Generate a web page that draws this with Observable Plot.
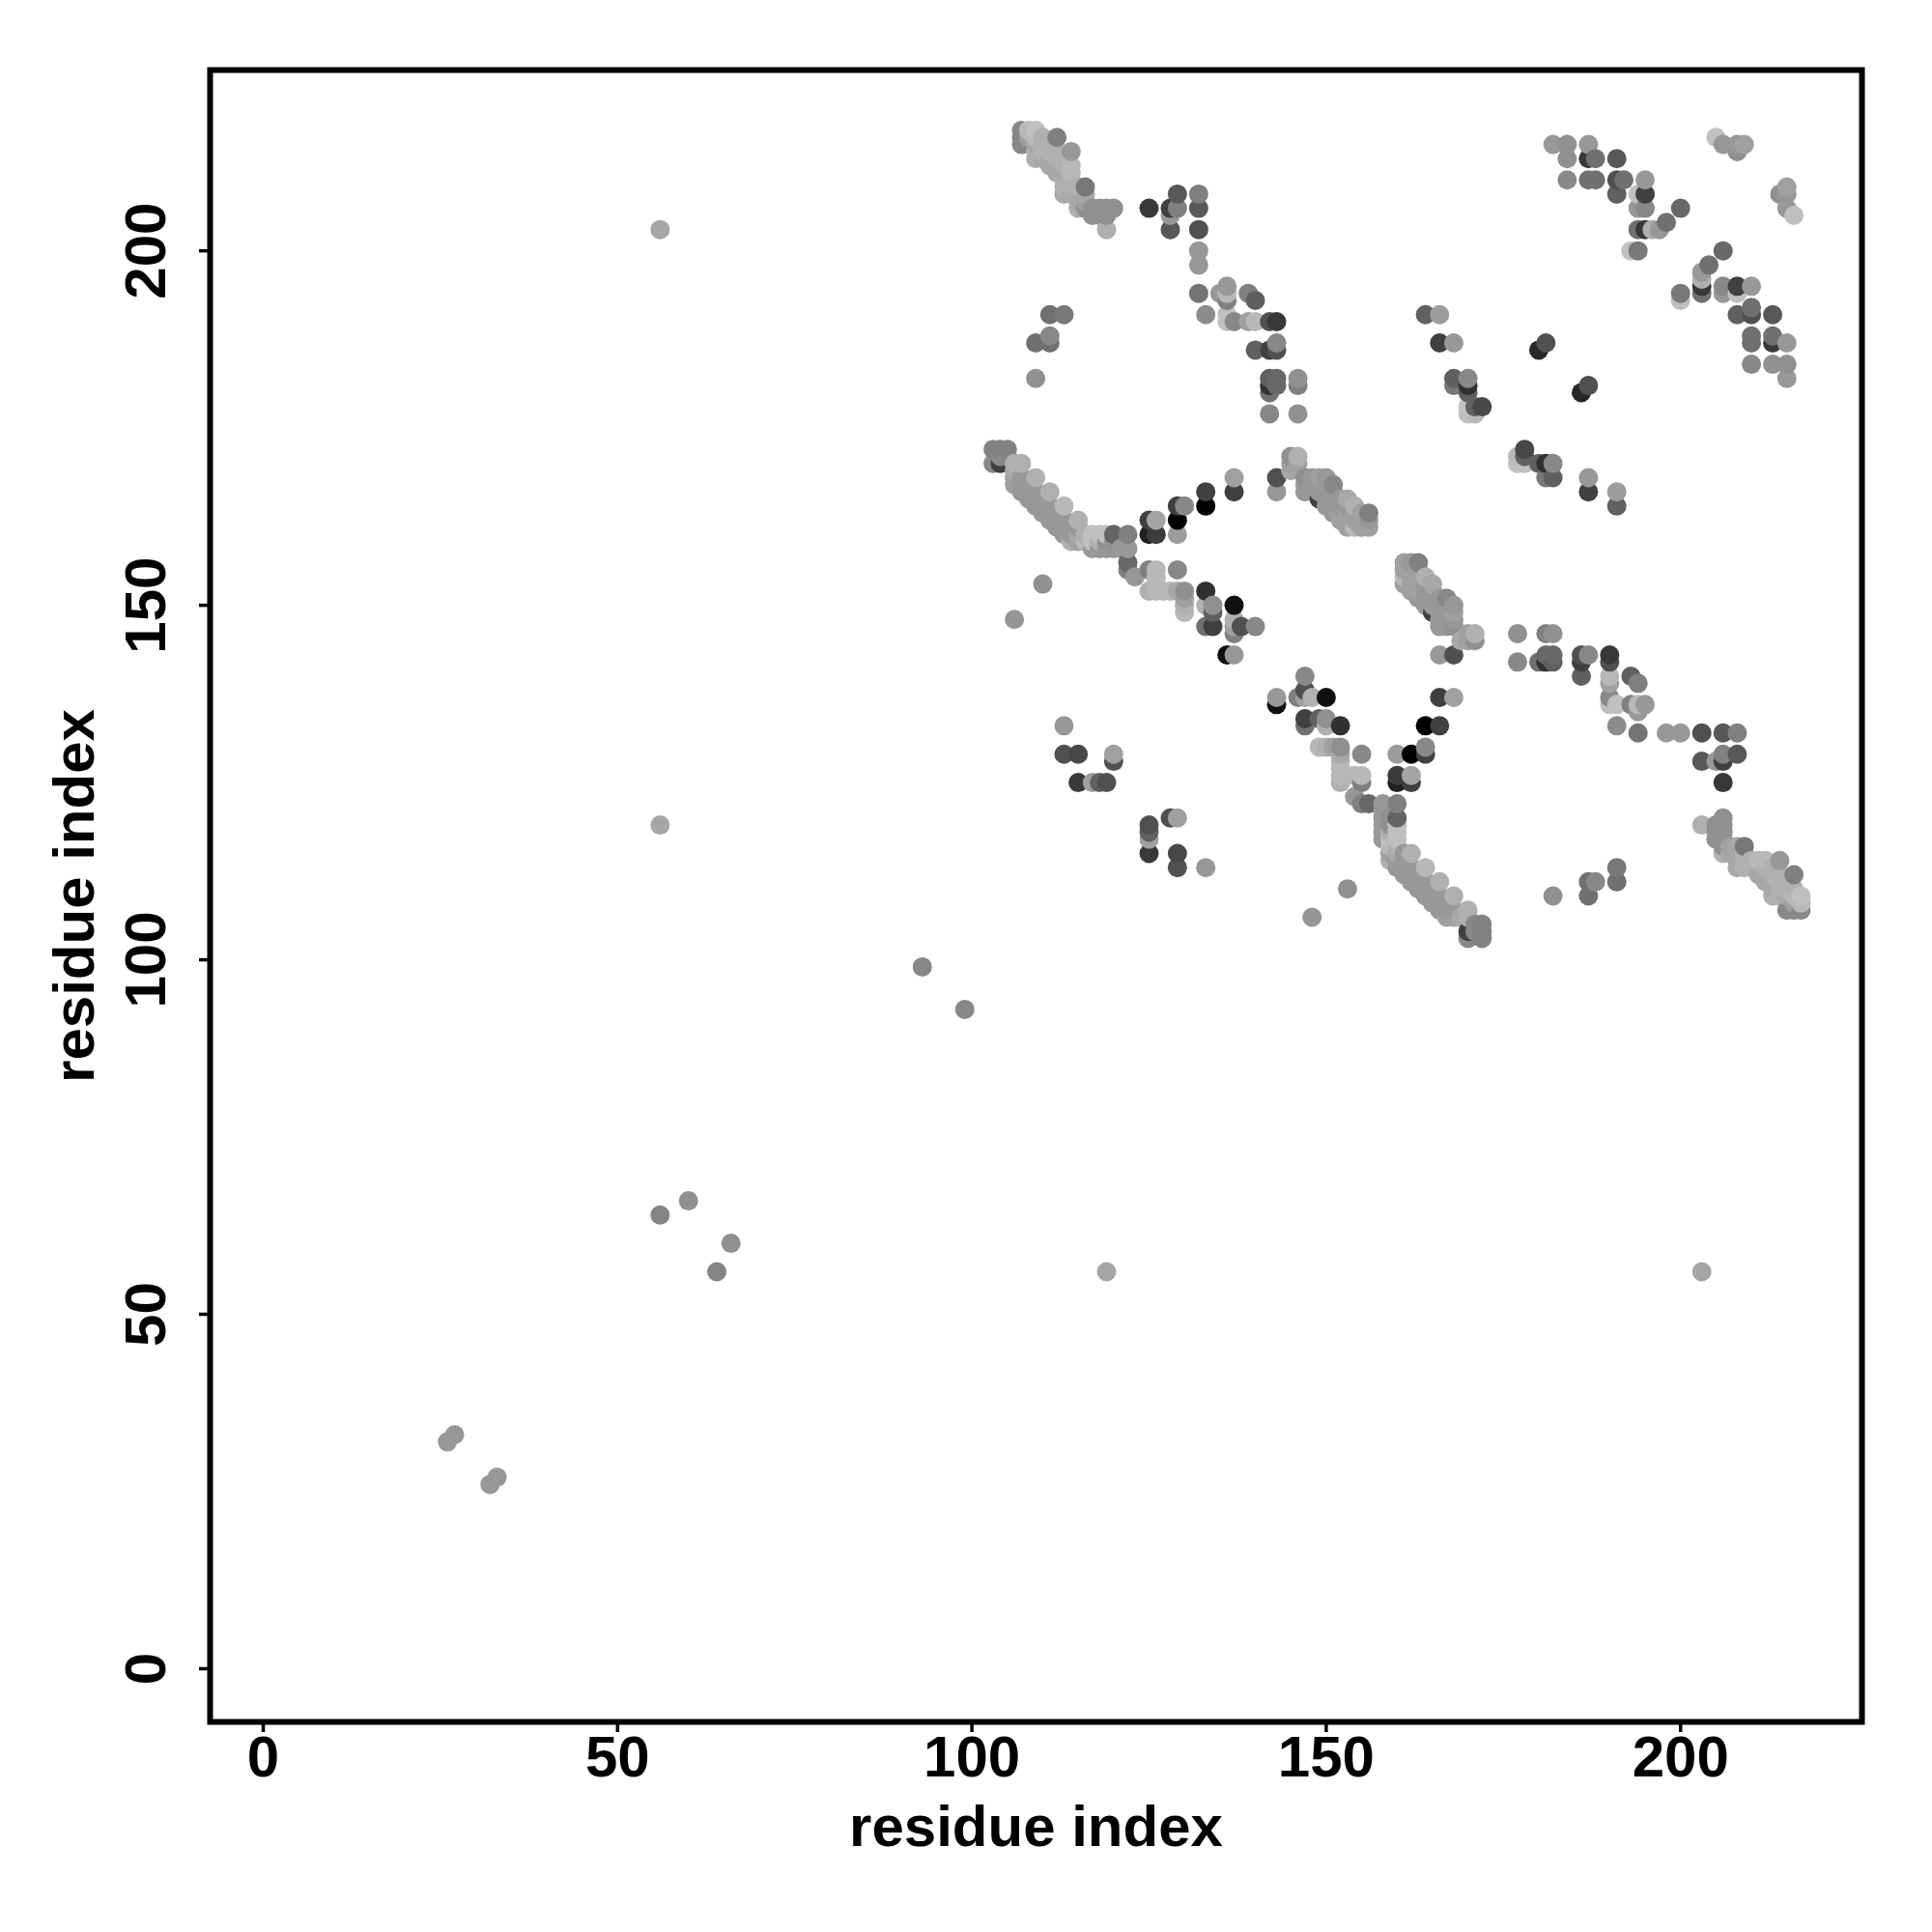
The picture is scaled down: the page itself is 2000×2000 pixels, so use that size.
<!DOCTYPE html>
<html><head><meta charset="utf-8">
<script src="https://cdn.jsdelivr.net/npm/d3@7"></script>
<script src="https://cdn.jsdelivr.net/npm/@observablehq/plot@0.6"></script>
<style>html,body{margin:0;padding:0;background:#fff}</style></head>
<body><div id="chart"></div>
<script>
// [residue a, residue b, grey shade]; the map is symmetric, each pair is drawn at (a,b) and (b,a)
const isolated=[[26,32,152],[27,33,152],[56,64,132],[60,66,144],[56,119,166],[56,203,166],[93,99,136]];
const strandTop=[[107,215,136],[107,216,136],[107,217,136],[108,216,160],[108,217,184],[109,217,192],[109,216,184],[110,216,176],[110,215,176],[109,215,168],[109,214,176],[109,213,176],[110,214,176],[110,213,168],[111,215,176],[111,214,176],[111,213,168],[111,212,168],[112,216,128],[112,214,176],[112,213,176],[112,212,168],[112,211,168],[113,213,176],[113,212,176],[113,211,168],[113,210,176],[114,214,152],[114,212,184],[114,211,184],[114,210,176],[114,209,176],[114,208,168],[113,209,176],[113,208,168],[115,209,176],[115,208,168],[115,207,168],[115,206,176],[116,209,120],[116,208,168],[116,207,160],[116,206,144],[117,206,144],[117,205,144],[118,206,144],[118,205,144],[119,206,144],[119,205,144],[119,203,176],[120,206,144]];
const strandMid=[[103,170,136],[104,170,64],[103,172,130],[104,172,130],[105,172,130],[104,171,136],[105,171,136],[106,170,176],[107,170,176],[106,169,168],[106,168,160],[106,167,160],[107,168,152],[107,167,152],[107,166,152],[108,167,152],[108,166,152],[108,165,152],[109,168,176],[109,166,152],[109,165,152],[109,164,152],[110,165,152],[110,164,152],[110,163,152],[111,166,176],[111,164,152],[111,163,152],[111,162,152],[112,163,152],[112,162,152],[112,161,152],[113,164,184],[113,162,152],[113,161,152],[113,160,152],[114,161,152],[114,160,152],[115,162,176],[115,161,152],[115,160,168],[114,159,176],[115,159,160],[116,160,176],[117,160,192],[118,160,192],[119,160,192],[120,160,100],[122,160,128],[116,159,184],[117,159,192],[118,159,176],[119,159,144],[120,159,144],[117,158,152],[118,158,152],[119,158,152],[120,158,152],[121,158,152],[122,158,152],[122,156,104],[122,155,128],[123,154,152]];
const strandLow=[[125,155,128],[126,155,184],[126,154,184],[126,153,184],[126,152,184],[125,152,176],[127,152,184],[128,152,184],[129,152,168],[129,155,136],[130,152,144],[130,151,160],[130,150,176],[130,149,184]];
const strandRight=[[145,171,144],[146,171,176],[145,170,160],[146,170,160],[145,169,168],[147,168,144],[148,168,152],[149,168,160],[150,168,152],[147,167,152],[148,167,152],[149,167,152],[150,167,152],[151,167,136],[147,166,152],[148,166,152],[149,166,152],[150,166,152],[151,166,152],[149,165,64],[150,165,152],[150,164,152],[151,165,152],[152,165,152],[153,165,168],[151,164,152],[151,163,152],[152,164,152],[153,164,152],[154,164,176],[152,163,160],[152,162,160],[153,163,160],[154,163,160],[155,163,160],[156,163,128],[153,162,160],[153,161,160],[154,162,160],[155,162,160],[156,162,152],[154,161,184],[155,161,160],[156,161,160]];
const blockCentre=[[125,162,64],[126,162,164],[125,160,32],[126,160,60],[129,164,64],[130,164,136],[129,162,0],[129,160,156],[133,166,64],[133,164,0],[137,168,160],[137,166,64],[143,168,80],[143,166,152],[133,152,48],[133,150,176],[134,150,144],[134,149,96],[133,147,112],[134,147,64],[137,150,16],[137,148,176],[137,147,160],[137,146,128],[138,147,80],[140,147,136],[136,143,16],[137,143,152],[110,153,144],[106,148,144]];
const blockLeft=[[113,133,152],[113,129,80],[115,129,72],[120,129,160],[120,128,80],[115,125,56],[117,125,160],[118,125,96],[119,125,80],[110,153,144],[148,106,150],[153,110,144]];
const blockUpper=[[125,206,56],[128,206,64],[129,208,88],[129,206,128],[128,205,152],[128,203,88],[132,208,128],[132,206,88],[132,203,80],[132,200,152],[132,198,152],[132,194,116],[133,191,140],[136,195,152],[135,194,152],[136,194,184],[136,193,128],[139,194,128],[140,193,96],[136,191,192],[136,190,192],[137,190,136],[139,190,160],[140,190,184],[142,190,80],[143,190,56],[140,186,96],[142,186,64],[143,186,80],[143,187,136],[142,182,96],[142,181,48],[142,180,112],[143,182,104],[143,181,104],[146,182,144],[146,181,128],[142,177,136],[146,177,144],[111,191,112],[113,191,120],[109,187,112],[111,188,136],[111,187,112],[109,182,144],[182,109,144]];
const blockFar=[[164,191,96],[166,191,156],[166,187,64],[168,187,152],[168,182,96],[168,181,120],[170,182,136],[170,181,48],[170,180,96],[172,178,72],[171,178,96],[170,178,192],[170,177,192],[171,177,184],[180,186,40],[181,187,80],[177,170,192]];
const blockCorner=[[182,215,152],[184,215,144],[184,213,144],[187,215,152],[187,213,56],[188,213,112],[191,213,88],[184,210,136],[187,210,112],[188,210,112],[191,210,80],[192,210,112],[191,208,96],[195,210,152],[194,208,192],[195,208,64],[194,206,152],[195,206,136],[194,203,112],[195,203,56],[196,203,176],[197,203,152],[198,204,112],[200,206,104],[193,200,192],[194,200,120],[205,216,192],[206,215,152],[208,215,152],[209,215,160],[208,214,144]];
const tickValues=[0,50,100,150,200];

const pairs=[...isolated,...strandTop,...strandMid,...strandLow,...strandRight,...blockCentre,...blockLeft,...blockUpper,...blockFar,...blockCorner];
const seen=new Map();
for(const [a,b,s] of pairs){ seen.set(a+","+b,{x:a,y:b,s}); seen.set(b+","+a,{x:b,y:a,s}); }
const dots=d3.sort([...seen.values()],d=>d.x,d=>d.y);
const font={fontFamily:"'Liberation Sans',Arial,sans-serif",fontWeight:"bold",fontSize:60,fill:"#000"};

const chart=Plot.plot({
  width:2000,height:2000,
  marginLeft:217,marginRight:73,marginTop:72,marginBottom:218,
  x:{domain:[-7.5,225.6]},
  y:{domain:[-7.5,225.5]},
  color:{type:"linear",domain:[0,255],range:["#000","#fff"]},
  style:{background:"#fff",overflow:"visible",fontFamily:font.fontFamily},
  marks:[
    Plot.dot(dots,{x:"x",y:"y",r:10,fill:"s",stroke:null}),
    Plot.frame({stroke:"#000",strokeWidth:6}),
    Plot.axisX({ticks:tickValues,tickSize:11,tickPadding:3,strokeWidth:3.5,label:"residue index",labelAnchor:"center",labelArrow:"none",labelOffset:128,tickFormat:d=>String(d),...font}),
    Plot.axisY({ticks:tickValues,tickSize:11,tickPadding:36,strokeWidth:3.5,tickRotate:-90,textAnchor:"middle",label:"residue index",labelAnchor:"center",labelArrow:"none",labelOffset:163,tickFormat:d=>String(d),...font})
  ]
});
document.getElementById("chart").appendChild(chart);
</script></body></html>
